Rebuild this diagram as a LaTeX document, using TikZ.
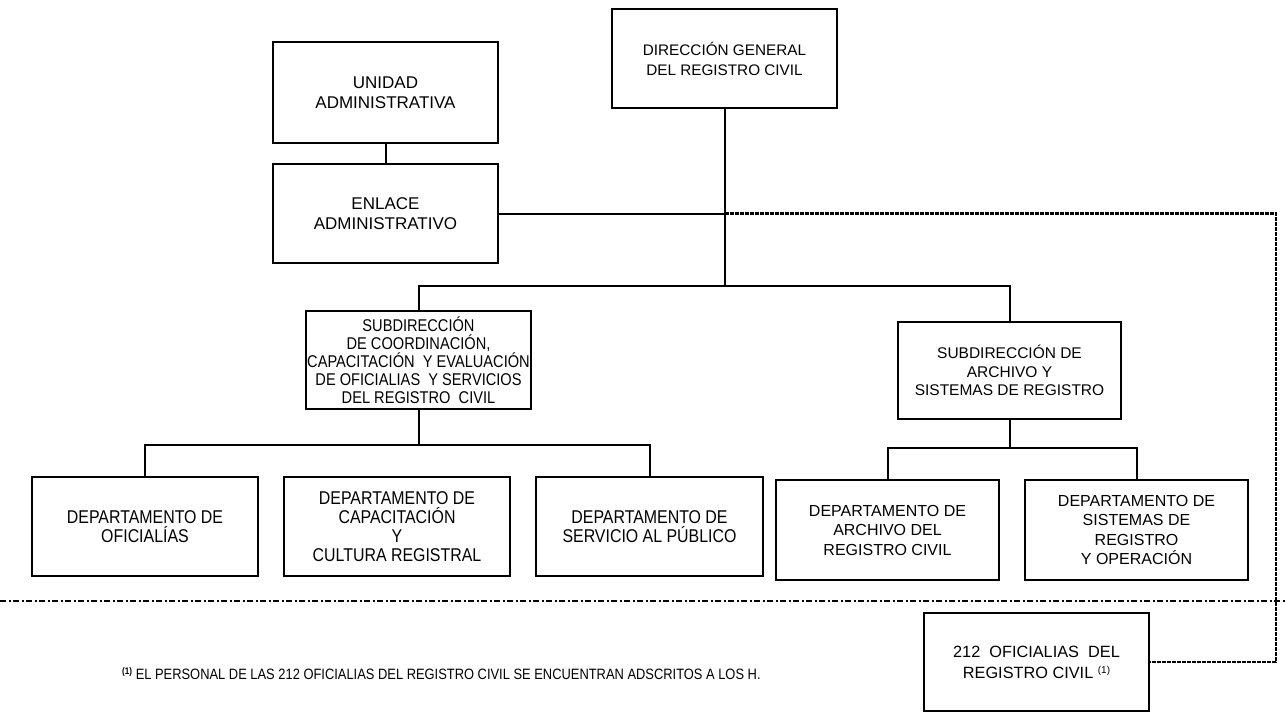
\documentclass[tikz,border=0pt]{standalone}
\usepackage{fontspec}
\setmainfont{Liberation Sans}
\newfontfamily\narrowfont[FakeStretch=0.86]{Liberation Sans}
\begin{document}
\begin{tikzpicture}[x=1pt,y=-1pt,
  box/.style={draw, line width=2.6pt, rectangle, inner sep=0pt, align=center,
    font=\fontsize{16}{19.5}\selectfont},
  narrowbox/.style={box, font=\narrowfont\fontsize{18.5}{19}\selectfont},
  conn/.style={line width=2pt},
  dashconn/.style={line width=2.3pt, dash pattern=on 4pt off 1pt},
  dashdot/.style={line width=2pt, dash pattern=on 6pt off 2.5pt on 2pt off 2.5pt}]
\useasboundingbox (0,0) rectangle (1286,713);
\fill[white] (0,0) rectangle (1286,713);

\node[box, minimum width=225pt, minimum height=99pt, font=\fontsize{15.3}{20}\selectfont] (dg) at (724.5,58.5) {DIRECCIÓN GENERAL\\DEL REGISTRO CIVIL};
\node[box, minimum width=225pt, minimum height=101pt, font=\fontsize{17}{20}\selectfont] (ua) at (385.5,92.5) {UNIDAD\\ADMINISTRATIVA};
\node[box, minimum width=225pt, minimum height=99pt, font=\fontsize{17}{20}\selectfont] (ea) at (385.5,213.5) {ENLACE\\ADMINISTRATIVO};

\node[box, minimum width=225pt, minimum height=98pt, font=\narrowfont\fontsize{17}{18}\selectfont] (sc) at (418.5,360) {SUBDIRECCIÓN\\DE COORDINACIÓN,\\CAPACITACIÓN~~Y EVALUACIÓN\\DE OFICIALIAS~~Y SERVICIOS\\DEL REGISTRO~~CIVIL};
\node[box, minimum width=223pt, minimum height=97pt, font=\fontsize{15.5}{18.5}\selectfont] (sa) at (1009.5,370.5) {SUBDIRECCIÓN DE\\ARCHIVO Y\\SISTEMAS DE REGISTRO};

\node[narrowbox, minimum width=226pt, minimum height=99pt] (d1) at (145,526.5) {DEPARTAMENTO DE\\OFICIALÍAS};
\node[narrowbox, minimum width=226pt, minimum height=99pt] (d2) at (397,526.5) {DEPARTAMENTO DE\\CAPACITACIÓN\\Y\\CULTURA REGISTRAL};
\node[narrowbox, minimum width=227pt, minimum height=99pt] (d3) at (649.5,526.5) {DEPARTAMENTO DE\\SERVICIO AL PÚBLICO};

\node[box, minimum width=223pt, minimum height=100pt] (d4) at (887.5,530) {DEPARTAMENTO DE\\ARCHIVO DEL\\REGISTRO CIVIL};
\node[box, minimum width=223pt, minimum height=100pt] (d5) at (1136.5,530) {DEPARTAMENTO DE\\SISTEMAS DE\\REGISTRO\\Y OPERACIÓN};

\node[box, minimum width=225pt, minimum height=98pt, font=\fontsize{16.3}{21}\selectfont] (of) at (1036.5,662) {212~~OFICIALIAS~~DEL\\REGISTRO CIVIL {\fontsize{10}{10}\selectfont\raisebox{4.5pt}{(1)}}};

\node[anchor=base west, inner sep=0pt, font=\narrowfont\fontsize{15}{15}\selectfont] (fn) at (122,679) {{\fontsize{9.5}{10}\selectfont\bfseries\raisebox{5pt}{(1)}} EL PERSONAL DE LAS 212 OFICIALIAS DEL REGISTRO CIVIL SE ENCUENTRAN ADSCRITOS A LOS H.};

% coordinates
\coordinate (j1) at (dg.south |- ea.east);
\coordinate (bar1) at (724.5,286);
\coordinate (bar2) at (418.5,445);
\coordinate (bar3) at (1009.5,448);
\coordinate (cr) at (1276,213.5);
\coordinate (dl) at (0,601);
\coordinate (dr) at (1286,601);

% connectors
\draw[conn] (ua.south) -- (ea.north);
\draw[conn] (ea.east) -- (j1);
\draw[conn] (dg.south) -- (bar1);
\draw[conn] (sc.north) |- (bar1) -| (sa.north);
\draw[conn] (sc.south) -- (bar2);
\draw[conn] (d1.north) |- (bar2) -| (d3.north);
\draw[conn] (sa.south) -- (bar3);
\draw[conn] (d4.north) |- (bar3) -| (d5.north);
\draw[dashconn] (j1) -- (cr) |- (of.east);
\draw[dashdot] (dl) -- (dr);
\end{tikzpicture}
\end{document}
